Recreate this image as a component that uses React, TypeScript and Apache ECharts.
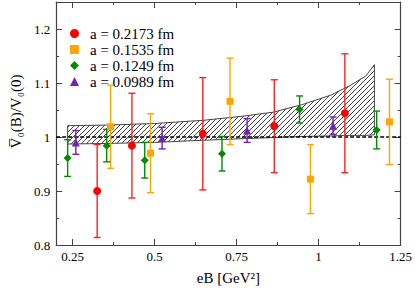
import React, { useEffect, useRef } from "react";
import * as echarts from "echarts";

// ---- data ----
const xMajor = [0.25, 0.5, 0.75, 1, 1.25];
const xMinor = [0.375, 0.625, 0.875, 1.125];
const yMajor = [0.8, 0.9, 1, 1.1, 1.2];
const yMinor = [0.85, 0.95, 1.05, 1.15];

const redX = [0.325, 0.431, 0.647, 0.865, 1.08];
const redY = [0.9, 0.984, 1.006, 1.02, 1.044];
const redErr = [0.086, 0.097, 0.104, 0.086, 0.11];

const orangeX = [0.366, 0.4875, 0.73, 0.975, 1.216];
const orangeY = [1.019, 0.97, 1.066, 0.922, 1.028];
const orangeErr = [0.077, 0.073, 0.08, 0.064, 0.079];

const greenX = [0.235, 0.354, 0.47, 0.7055, 0.942, 1.177];
const greenY = [0.961, 0.984, 0.957, 0.969, 1.051, 1.013];
const greenErr = [0.034, 0.03, 0.033, 0.032, 0.025, 0.035];

const purpleX = [0.26, 0.523, 0.782, 1.044];
const purpleY = [0.99, 0.998, 1.012, 1.021];
const purpleErr = [0.022, 0.02, 0.022, 0.016];

const bandX = [0.235, 0.35, 0.5, 0.65, 0.775, 0.862, 0.95, 1.037, 1.095, 1.144, 1.17];
const bandLow = [0.987, 0.988, 0.99, 0.994, 0.997, 0.999, 1.001, 1.002, 1.003, 1.003, 1.004];
const bandHigh = [1.021, 1.022, 1.025, 1.031, 1.039, 1.046, 1.06, 1.0775, 1.095, 1.113, 1.134];

const X_MIN = 0.2;
const X_MAX = 1.25;
const Y_MIN = 0.8;
const Y_MAX = 1.25;
const REF_LEVEL = 1;

const FONT = "Times New Roman, Liberation Serif, serif";
const FRAME = "#444";

function makeHatch() {
  const c = document.createElement("canvas");
  c.width = 5;
  c.height = 5;
  const ctx = c.getContext("2d")!;
  ctx.strokeStyle = "#111";
  ctx.lineWidth = 0.8;
  ctx.beginPath();
  ctx.moveTo(0, 5);
  ctx.lineTo(5, 0);
  ctx.moveTo(-1, 1);
  ctx.lineTo(1, -1);
  ctx.moveTo(4, 6);
  ctx.lineTo(6, 4);
  ctx.stroke();
  return c;
}

function errSeries(name: string, xs: number[], ys: number[], es: number[], color: string) {
  return {
    name,
    type: "custom",
    xAxisIndex: 0,
    yAxisIndex: 0,
    data: xs.map((x, i) => [x, ys[i] - es[i], ys[i] + es[i]]),
    encode: { x: 0, y: [1, 2] },
    z: 3,
    renderItem: (params: any, api: any) => {
      const x = api.value(0);
      const lo = api.coord([x, api.value(1)]);
      const hi = api.coord([x, api.value(2)]);
      const w = 3.5;
      const st = { stroke: color, lineWidth: 1.4 };
      return {
        type: "group",
        children: [
          { type: "line", shape: { x1: lo[0], y1: lo[1], x2: hi[0], y2: hi[1] }, style: st },
          { type: "line", shape: { x1: lo[0] - w, y1: lo[1], x2: lo[0] + w, y2: lo[1] }, style: st },
          { type: "line", shape: { x1: hi[0] - w, y1: hi[1], x2: hi[0] + w, y2: hi[1] }, style: st },
        ],
      };
    },
  };
}

function ptSeries(name: string, xs: number[], ys: number[], color: string, symbol: string, size: number) {
  return {
    name,
    type: "scatter",
    xAxisIndex: 0,
    yAxisIndex: 0,
    symbol,
    symbolSize: size,
    itemStyle: { color, opacity: 1 },
    data: xs.map((x, i) => [x, ys[i]]),
    z: 4,
  };
}

export default function App() {
  const ref = useRef<HTMLDivElement>(null);
  useEffect(() => {
    const chart = echarts.init(ref.current!, null, { renderer: "svg" });
    const hatch = makeHatch();
    const labelStyle = { fontFamily: FONT, fontSize: 13, color: "#000" };
    const hidden = { show: false };
    const xBase = { type: "value", min: X_MIN, max: X_MAX, splitLine: hidden, gridIndex: 0 };
    const yBase = { type: "value", min: Y_MIN, max: Y_MAX, splitLine: hidden, gridIndex: 0 };
    const line = { show: true, onZero: false, lineStyle: { color: FRAME, width: 1.2 } };
    const major = (vals: number[]) => ({ show: true, inside: true, length: 6, customValues: vals, lineStyle: { color: FRAME, width: 1 } });
    const minor = (vals: number[]) => ({ show: true, inside: true, length: 3, customValues: vals, lineStyle: { color: FRAME, width: 1 } });

    chart.setOption({
      animation: false,
      backgroundColor: "#fff",
      textStyle: { fontFamily: FONT },
      grid: { left: 43, right: 12, top: 2, bottom: 37, containLabel: false },
      legend: {
        orient: "vertical",
        left: 65,
        top: 21,
        itemWidth: 9,
        itemHeight: 9,
        itemGap: 1,
        textStyle: { fontFamily: FONT, fontSize: 15, color: "#000", lineHeight: 13.5, padding: [0, 0, 0, 6] },
        data: ["a = 0.2173 fm", "a = 0.1535 fm", "a = 0.1249 fm", "a = 0.0989 fm"],
      },
      xAxis: [
        {
          ...xBase,
          position: "bottom",
          axisLine: line,
          axisTick: major(xMajor),
          axisLabel: { ...labelStyle, margin: 5, customValues: xMajor, formatter: (v: number) => String(v) },
          name: "eB [GeV²]",
          nameLocation: "middle",
          nameGap: 25,
          nameTextStyle: { fontFamily: FONT, fontSize: 15, color: "#000" },
        },
        { ...xBase, position: "bottom", axisLine: hidden, axisTick: minor(xMinor), axisLabel: hidden },
        { ...xBase, position: "top", axisLine: line, axisTick: major(xMajor), axisLabel: hidden },
        { ...xBase, position: "top", axisLine: hidden, axisTick: minor(xMinor), axisLabel: hidden },
      ],
      yAxis: [
        {
          ...yBase,
          position: "left",
          axisLine: line,
          axisTick: major(yMajor),
          axisLabel: { ...labelStyle, margin: 6, customValues: yMajor, formatter: (v: number) => String(v) },
          name: "V\u0305\u2080(B)/V\u2080(0)",
          nameLocation: "middle",
          nameRotate: 90,
          nameGap: 28,
          nameTextStyle: { fontFamily: FONT, fontSize: 15, color: "#000", padding: [0, 0, 0, 24] },
        },
        { ...yBase, position: "left", axisLine: hidden, axisTick: minor(yMinor), axisLabel: hidden },
        { ...yBase, position: "right", axisLine: line, axisTick: major(yMajor), axisLabel: hidden },
        { ...yBase, position: "right", axisLine: hidden, axisTick: minor(yMinor), axisLabel: hidden },
      ],
      series: [
        {
          name: "band",
          type: "custom",
          xAxisIndex: 0,
          yAxisIndex: 0,
          data: [[bandX[0], bandLow[0]]],
          encode: { x: 0, y: 1 },
          z: 1,
          renderItem: (params: any, api: any) => {
            const top = bandX.map((x, i) => api.coord([x, bandHigh[i]]));
            const bot = bandX.map((x, i) => api.coord([x, bandLow[i]])).reverse();
            return {
              type: "polygon",
              shape: { points: top.concat(bot) },
              style: { fill: { image: hatch, repeat: "repeat" }, stroke: "#444", lineWidth: 1 },
            };
          },
        },
        {
          name: "ref",
          type: "line",
          xAxisIndex: 0,
          yAxisIndex: 0,
          data: [[X_MIN, REF_LEVEL], [X_MAX, REF_LEVEL]],
          symbol: "none",
          lineStyle: { color: "#000", width: 1.3, type: [4, 2] },
          z: 2,
        },
        errSeries("e1", redX, redY, redErr, "#ff2020"),
        errSeries("e2", orangeX, orangeY, orangeErr, "#ffa500"),
        errSeries("e3", greenX, greenY, greenErr, "#008b00"),
        errSeries("e4", purpleX, purpleY, purpleErr, "#7221bc"),
        ptSeries("a = 0.2173 fm", redX, redY, "#ff0000", "circle", 8),
        ptSeries("a = 0.1535 fm", orangeX, orangeY, "#ffa500", "rect", 7),
        ptSeries("a = 0.1249 fm", greenX, greenY, "#008b00", "diamond", 8),
        ptSeries("a = 0.0989 fm", purpleX, purpleY, "#7221bc", "triangle", 8),
      ],
    });
    return () => chart.dispose();
  }, []);
  return <div ref={ref} style={{ width: 415, height: 290, position: "absolute", left: 0, top: 0 }} />;
}
